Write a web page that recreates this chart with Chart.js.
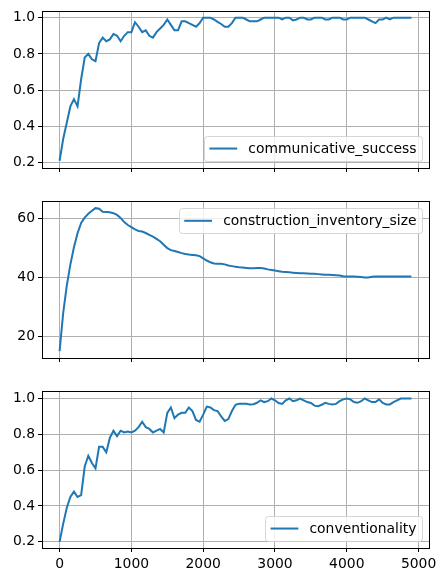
<!DOCTYPE html>
<html>
<head>
<meta charset="utf-8">
<script src="https://cdn.jsdelivr.net/npm/chart.js@4.4.0/dist/chart.umd.min.js"></script>
<style>
  body { margin: 0; background: #fff; }
  #wrap { position: relative; width: 446px; height: 582px; }
  canvas { position: absolute; left: 0; }
</style>
</head>
<body>
<div id="wrap">
  <canvas id="success" width="446" height="190" style="top:0px"></canvas>
  <canvas id="inventory" width="446" height="190" style="top:190px"></canvas>
  <canvas id="conventionality" width="446" height="202" style="top:380px"></canvas>
</div>
<script>
// values sampled every 50 iterations, 0..4900
const communicativeSuccess = [
  0.21, 0.33, 0.42, 0.51, 0.55, 0.51, 0.66, 0.78, 0.80, 0.77,
  0.76, 0.86, 0.89, 0.87, 0.88, 0.91, 0.90, 0.87, 0.90, 0.92,
  0.92, 0.975, 0.95, 0.92, 0.93, 0.90, 0.89, 0.92, 0.94, 0.96,
  0.99, 0.96, 0.93, 0.93, 0.98, 0.98, 0.97, 0.96, 0.95, 0.97,
  1.0, 1.0, 1.0, 0.99, 0.977, 0.965, 0.95, 0.95, 0.97, 1.0,
  1.0, 1.0, 0.99, 0.98, 0.98, 0.98, 0.99, 1.0, 1.0, 1.0,
  1.0, 1.0, 0.99, 1.0, 1.0, 0.985, 0.99, 1.0, 1.0, 0.99,
  0.99, 1.0, 1.0, 1.0, 0.99, 0.99, 1.0, 1.0, 1.0, 0.99,
  0.99, 1.0, 1.0, 1.0, 1.0, 1.0, 0.99, 0.98, 0.97, 0.99,
  0.99, 1.0, 0.99, 1.0, 1.0, 1.0, 1.0, 1.0, 1.0
];
const inventorySize = [
  15.2, 28, 37.3, 44.4, 50.3, 55, 58.5, 60.3, 61.6, 62.6,
  63.5, 63.3, 62.3, 62.2, 62.1, 61.8, 61.2, 60.2, 58.8, 57.8,
  57.1, 56.3, 55.8, 55.6, 55.1, 54.5, 53.9, 53.1, 52.3, 51.1,
  50, 49.3, 49, 48.7, 48.3, 48, 47.8, 47.7, 47.6, 47.3,
  46.5, 45.8, 45.2, 44.8, 44.7, 44.7, 44.5, 44.1, 43.9, 43.7,
  43.5, 43.4, 43.3, 43.2, 43.2, 43.3, 43.3, 43.1, 42.8, 42.6,
  42.4, 42.2, 42.0, 41.9, 41.8, 41.7, 41.6, 41.5, 41.5, 41.4,
  41.3, 41.3, 41.2, 41.1, 41.0, 41.0, 40.9, 40.8, 40.7, 40.5,
  40.4, 40.4, 40.4, 40.3, 40.2, 40.1, 40.1, 40.3, 40.4, 40.4,
  40.4, 40.4, 40.4, 40.4, 40.4, 40.4, 40.4, 40.4, 40.4
];
const conventionality = [
  0.20, 0.30, 0.39, 0.45, 0.48, 0.45, 0.46, 0.62, 0.68, 0.64,
  0.61, 0.73, 0.73, 0.70, 0.78, 0.82, 0.79, 0.82, 0.81, 0.815,
  0.81, 0.82, 0.84, 0.87, 0.84, 0.83, 0.81, 0.82, 0.83, 0.81,
  0.92, 0.95, 0.89, 0.91, 0.92, 0.92, 0.95, 0.93, 0.88, 0.87,
  0.91, 0.955, 0.95, 0.935, 0.93, 0.90, 0.875, 0.885, 0.93, 0.965,
  0.97, 0.97, 0.97, 0.967, 0.968, 0.976, 0.99, 0.98, 0.985, 1.0,
  0.99, 0.975, 0.97, 0.99, 1.0, 0.985, 0.99, 1.0, 0.99, 0.98,
  0.975, 0.96, 0.957, 0.965, 0.976, 0.97, 0.967, 0.97, 0.985, 0.995,
  1.0, 0.995, 0.98, 0.976, 0.985, 1.0, 0.99, 0.98, 0.98, 0.995,
  0.975, 0.967, 0.967, 0.98, 0.99, 1.0, 1.0, 1.0, 1.0
];
const iterations = communicativeSuccess.map((_, i) => i * 50);

const xTicks = [0, 1000, 2000, 3000, 4000, 5000];
const rateTicks = [0.2, 0.4, 0.6, 0.8, 1.0];
const sizeTicks = [20, 40, 60];

const FONT = 13.9;
const BLUE = '#1f77b4';
Chart.defaults.font.family = '"DejaVu Sans", sans-serif';
Chart.defaults.font.size = FONT;
Chart.defaults.color = '#000';

// black frame around the plot area (matplotlib spines)
const frame = {
  id: 'frame',
  afterDatasetsDraw(chart) {
    const { ctx, chartArea: a } = chart;
    ctx.save();
    ctx.strokeStyle = '#000';
    ctx.lineWidth = 1;
    ctx.strokeRect(Math.round(a.left) + 0.5, Math.round(a.top) + 0.5,
      Math.round(a.right - a.left), Math.round(a.bottom - a.top));
    ctx.restore();
  }
};

// legend box inside the plot, in the upper or lower right corner
const boxLegend = {
  id: 'boxLegend',
  afterDraw(chart, args, opts) {
    const { ctx, chartArea: a } = chart;
    const ds = chart.data.datasets[0];
    const pad = 0.4 * FONT, handle = 2 * FONT, gap = 0.8 * FONT, margin = 0.5 * FONT;
    ctx.save();
    ctx.font = FONT + 'px "DejaVu Sans"';
    const tw = ctx.measureText(ds.label).width;
    const w = pad + handle + gap + tw + pad;
    const h = FONT + 2 * pad;
    const x = a.right - margin - w;
    const y = opts.corner === 'upper' ? a.top + margin : a.bottom - margin - h;
    ctx.beginPath();
    ctx.roundRect(Math.round(x) + 0.5, Math.round(y) + 0.5, Math.round(w), Math.round(h), 3);
    ctx.fillStyle = 'rgba(255,255,255,0.8)';
    ctx.fill();
    ctx.strokeStyle = 'rgba(204,204,204,0.8)';
    ctx.lineWidth = 1;
    ctx.stroke();
    const cy = y + h / 2;
    ctx.beginPath();
    ctx.moveTo(x + pad, cy);
    ctx.lineTo(x + pad + handle, cy);
    ctx.strokeStyle = ds.borderColor;
    ctx.lineWidth = 2;
    ctx.stroke();
    ctx.fillStyle = '#000';
    ctx.textBaseline = 'middle';
    ctx.fillText(ds.label, x + pad + handle + gap, cy + 0.5);
    ctx.restore();
  }
};

function makePanel(id, label, values, yMin, yMax, yTicks, fmt, corner, showX) {
  const canvas = document.getElementById(id);
  const H = canvas.height;
  return new Chart(canvas, {
    type: 'line',
    data: {
      datasets: [{
        label,
        data: iterations.map((it, i) => ({ x: it, y: values[i] })),
        borderColor: BLUE,
        borderWidth: 2,
        pointRadius: 0,
        tension: 0,
        fill: false
      }]
    },
    options: {
      responsive: false,
      animation: false,
      devicePixelRatio: 1,
      layout: { padding: { left: 0, right: 17, top: 10, bottom: 0 } },
      plugins: {
        legend: { display: false },
        tooltip: { enabled: false },
        boxLegend: { corner }
      },
      scales: {
        x: {
          type: 'linear',
          min: -245,
          max: 5145,
          afterBuildTicks: (s) => { s.ticks = xTicks.map(v => ({ value: v })); },
          afterFit: (s) => { s.height = H - 168; },
          grid: { color: '#b0b0b0', lineWidth: 1, tickColor: '#000', tickLength: 4, tickWidth: 1 },
          border: { display: false },
          ticks: { display: showX, padding: 4, maxRotation: 0, callback: (v) => String(v) }
        },
        y: {
          min: yMin,
          max: yMax,
          afterBuildTicks: (s) => { s.ticks = yTicks.map(v => ({ value: v })); },
          afterFit: (s) => { s.width = 42; },
          grid: { color: '#b0b0b0', lineWidth: 1, tickColor: '#000', tickLength: 4, tickWidth: 1 },
          border: { display: false },
          ticks: { padding: 3, callback: fmt }
        }
      }
    },
    plugins: [frame, boxLegend]
  });
}

const oneDecimal = (v) => v.toFixed(1);
const integer = (v) => String(Math.round(v));

makePanel('success', 'communicative_success', communicativeSuccess, 0.170, 1.035, rateTicks, oneDecimal, 'lower', false);
makePanel('inventory', 'construction_inventory_size', inventorySize, 12.85, 65.8, sizeTicks, integer, 'upper', false);
makePanel('conventionality', 'conventionality', conventionality, 0.165, 1.04, rateTicks, oneDecimal, 'lower', true);
</script>
</body>
</html>
